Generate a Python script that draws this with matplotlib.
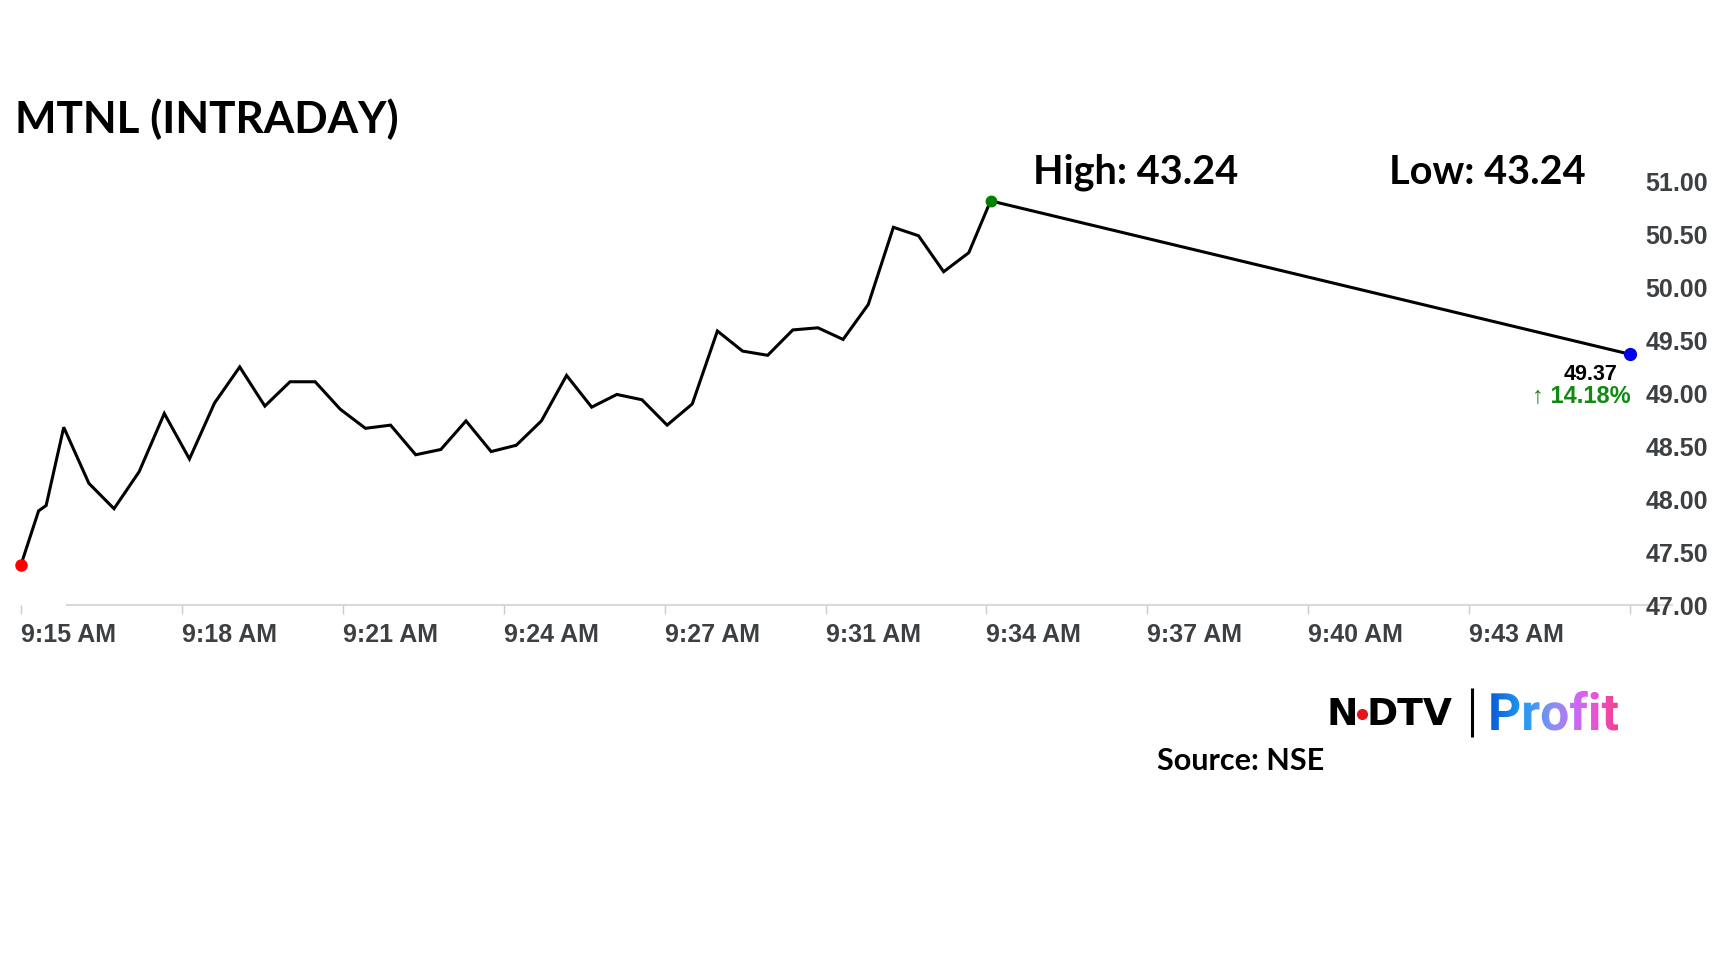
import numpy as np
import pandas as pd
import matplotlib
matplotlib.use("Agg")
import matplotlib.pyplot as plt
from matplotlib.textpath import TextPath
from matplotlib.font_manager import FontProperties
from matplotlib.patches import PathPatch
from matplotlib.colors import LinearSegmentedColormap
from matplotlib.transforms import Affine2D

# ---- data ----
open_time = "09:15:00"
times = ["09:15:00", "09:15:21", "09:15:30", "09:15:51",
         "09:16:21", "09:16:51", "09:17:21", "09:17:51", "09:18:21", "09:18:51",
         "09:19:21", "09:19:51", "09:20:21", "09:20:51", "09:21:21", "09:21:51",
         "09:22:21", "09:22:51", "09:23:21", "09:23:51", "09:24:21", "09:24:51",
         "09:25:21", "09:25:51", "09:26:21", "09:26:51", "09:27:21", "09:27:51",
         "09:28:21", "09:28:51", "09:29:21", "09:29:51", "09:30:21", "09:30:51",
         "09:31:21", "09:31:51", "09:32:21", "09:32:51", "09:33:21", "09:33:51",
         "09:34:17", "09:47:00"]
prices = [47.38, 47.89, 47.94, 48.68,
          48.15, 47.91, 48.26, 48.81, 48.38, 48.91,
          49.25, 48.88, 49.11, 49.11, 48.85, 48.67,
          48.70, 48.42, 48.47, 48.74, 48.45, 48.51,
          48.74, 49.17, 48.87, 48.99, 48.94, 48.70,
          48.90, 49.59, 49.40, 49.36, 49.60, 49.62,
          49.51, 49.84, 50.57, 50.49, 50.15, 50.33,
          50.82, 49.37]
tick_labels = ["9:15 AM", "9:18 AM", "9:21 AM", "9:24 AM", "9:27 AM", "9:31 AM",
               "9:34 AM", "9:37 AM", "9:40 AM", "9:43 AM", ""]
y_ticks = [47.0, 47.5, 48.0, 48.5, 49.0, 49.5, 50.0, 50.5, 51.0]
title = "MTNL (INTRADAY)"
high_text = "High: 43.24"
low_text = "Low: 43.24"
change_pct = 14.18

t0 = pd.to_datetime(open_time, format="%H:%M:%S")
mins = ((pd.to_datetime(times, format="%H:%M:%S") - t0).total_seconds() / 60).to_numpy()

W, H = 1728, 972
fig = plt.figure(figsize=(W / 100, H / 100), dpi=100)
fig.patch.set_facecolor("white")

# main axes (pixel box of the plot area in the reference)
ax = fig.add_axes([21 / W, 1 - 605 / H, (1630 - 21) / W, (605 - 181.8) / H])
ax.patch.set_visible(False)
ax.set_xlim(0, mins[-1])
ax.set_ylim(y_ticks[0], y_ticks[-1])
for s in ax.spines.values():
    s.set_visible(False)

grey_txt = "#3d4043"
ax.plot(mins, prices, color="black", lw=2.2, solid_joinstyle="miter", zorder=3)
ax.plot([0.91, 32.84], [y_ticks[0], y_ticks[0]], color="#d9d9d9", lw=1.5,
        clip_on=False, zorder=1)

i_hi = int(np.argmax(prices))
ax.plot(mins[0], prices[0], "o", color="#ff0000", ms=8, clip_on=False, zorder=4)
ax.plot(mins[i_hi], prices[i_hi], "o", color="#008000", ms=7.5, clip_on=False, zorder=4)
ax.plot(mins[-1], prices[-1], "o", color="#0000ee", ms=8.5, clip_on=False, zorder=4)

ax.set_xticks(np.linspace(0, mins[-1], len(tick_labels)))
ax.set_xticklabels(tick_labels, ha="left")
ax.tick_params(axis="x", length=6.5, width=1, color="#cccccc", pad=6.3,
               labelsize=18, labelcolor=grey_txt)
ax.yaxis.tick_right()
ax.set_yticks(y_ticks)
ax.set_yticklabels([f"{v:.2f}" for v in y_ticks])
ax.tick_params(axis="y", length=0, pad=11, labelsize=18, labelcolor=grey_txt)
for lab in ax.get_xticklabels() + ax.get_yticklabels():
    lab.set_fontfamily("Liberation Sans")
    lab.set_fontweight("bold")

ax.annotate(f"{prices[-1]:.2f}", xy=(mins[-1], prices[-1]), xytext=(-12, -26),
            textcoords="offset pixels", ha="right", va="baseline",
            fontsize=15.5, fontweight="bold", color="black",
            family=["Liberation Sans", "DejaVu Sans"])
ax.annotate(f"\u2191 {change_pct:.2f}%", xy=(mins[-1], prices[-1]), xytext=(1, -49),
            textcoords="offset pixels", ha="right", va="baseline",
            fontsize=17, fontweight="bold", color="#108a10",
            family=["DejaVu Sans"] if False else ["Liberation Sans", "DejaVu Sans"])

# overlay in pixel coords for titles / logo
ov = fig.add_axes([0, 0, 1, 1], zorder=-1)
ov.axis("off")

ov.text(15, 133, title, fontsize=31.7, fontweight="bold", family="Lato", va="baseline")
ov.text(1033, 183.5, high_text, fontsize=28.5, fontweight="bold", family="Lato", va="baseline")
ov.text(1389, 183.5, low_text, fontsize=28.5, fontweight="bold", family="Lato", va="baseline")
ov.text(1157, 770, "Source: NSE", fontsize=22, fontweight="bold", family="Lato", va="baseline")

# NDTV | Profit logo
ov.text(1327, 725, "N", fontsize=27, fontweight="bold", family="DejaVu Sans", va="baseline")
ov.text(1366, 725, "DTV", fontsize=27, fontweight="bold", family="DejaVu Sans", va="baseline")
ov.plot(1362, 714, "o", color="#e8141b", ms=7)
ov.plot([1472, 1472], [688, 737], color="black", lw=2.2, solid_capstyle="butt")

tp = TextPath((0, 0), "Profit", size=51.6, prop=FontProperties(family="Roboto", weight="bold"))
tp = Affine2D().scale(1, -1).translate(1488, 730).transform_path(tp)
patch = PathPatch(tp, facecolor="none", edgecolor="none", transform=ov.transData)
ov.add_patch(patch)
ext = tp.get_extents()
cmap = LinearSegmentedColormap.from_list(
    "profit", ["#0b5ed7", "#1f9cf0", "#8f8ef4", "#e25cf0", "#f53f8c"])
im = ov.imshow(np.linspace(0, 1, 256).reshape(1, -1), cmap=cmap, aspect="auto",
               extent=[ext.x0, ext.x1, ext.y1, ext.y0])
im.set_clip_path(patch)

ov.set_xlim(0, W)
ov.set_ylim(H, 0)

fig.savefig("out.png", dpi=100)
